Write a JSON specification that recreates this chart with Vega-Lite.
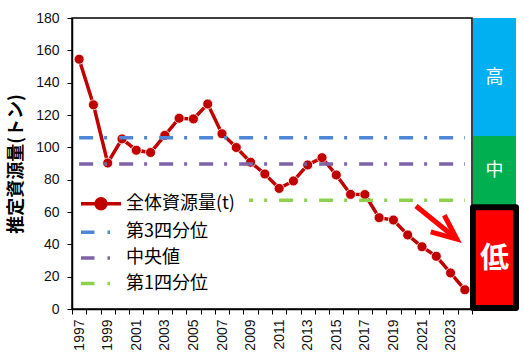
{
  "$schema": "https://vega.github.io/schema/vega-lite/v6.json",
  "padding": {"left": 6, "top": 10, "right": 0, "bottom": 0},
  "bounds": "flush",
  "spacing": 1,
  "config": {
    "view": {"stroke": null},
    "font": "Liberation Sans",
    "axis": {"domainColor": "#000", "tickColor": "#000", "labelColor": "#111", "grid": false}
  },
  "hconcat": [
    {
      "width": 400,
      "height": 291,
      "view": {"stroke": "#000", "strokeWidth": 1.5},
      "resolve": {"scale": {"x": "independent", "y": "independent"}},
      "layer": [
        {
          "data": {"values": [
            {"series": "全体資源量(t)", "year": 1997, "value": 154.5},
            {"series": "全体資源量(t)", "year": 1998, "value": 126.3},
            {"series": "全体資源量(t)", "year": 1999, "value": 90.3},
            {"series": "全体資源量(t)", "year": 2000, "value": 105.2},
            {"series": "全体資源量(t)", "year": 2001, "value": 98.2},
            {"series": "全体資源量(t)", "year": 2002, "value": 96.8},
            {"series": "全体資源量(t)", "year": 2003, "value": 107.4},
            {"series": "全体資源量(t)", "year": 2004, "value": 118.0},
            {"series": "全体資源量(t)", "year": 2005, "value": 117.6},
            {"series": "全体資源量(t)", "year": 2006, "value": 126.8},
            {"series": "全体資源量(t)", "year": 2007, "value": 108.4},
            {"series": "全体資源量(t)", "year": 2008, "value": 99.9},
            {"series": "全体資源量(t)", "year": 2009, "value": 90.8},
            {"series": "全体資源量(t)", "year": 2010, "value": 83.5},
            {"series": "全体資源量(t)", "year": 2011, "value": 74.6},
            {"series": "全体資源量(t)", "year": 2012, "value": 79.2},
            {"series": "全体資源量(t)", "year": 2013, "value": 89.1},
            {"series": "全体資源量(t)", "year": 2014, "value": 93.6},
            {"series": "全体資源量(t)", "year": 2015, "value": 82.9},
            {"series": "全体資源量(t)", "year": 2016, "value": 70.9},
            {"series": "全体資源量(t)", "year": 2017, "value": 70.8},
            {"series": "全体資源量(t)", "year": 2018, "value": 56.5},
            {"series": "全体資源量(t)", "year": 2019, "value": 55.0},
            {"series": "全体資源量(t)", "year": 2020, "value": 45.8},
            {"series": "全体資源量(t)", "year": 2021, "value": 38.5},
            {"series": "全体資源量(t)", "year": 2022, "value": 32.6},
            {"series": "全体資源量(t)", "year": 2023, "value": 22.3},
            {"series": "全体資源量(t)", "year": 2024, "value": 11.9},
            {"series": "第3四分位", "year": 1997, "value": 106.0},
            {"series": "第3四分位", "year": 2024, "value": 106.0},
            {"series": "中央値", "year": 1997, "value": 89.7},
            {"series": "中央値", "year": 2024, "value": 89.7},
            {"series": "第1四分位", "year": 1997, "value": 67.2},
            {"series": "第1四分位", "year": 2024, "value": 67.2}
          ]},
          "encoding": {
            "x": {"field": "year", "type": "ordinal", "sort": "ascending",
              "scale": {"paddingInner": 0, "paddingOuter": 0},
              "axis": {"title": null, "labelAngle": -90, "tickBand": "extent",
                "labelExpr": "datum.value % 2 == 1 ? datum.label : ''",
                "labelFontSize": 14, "labelPadding": 5, "tickSize": 5, "domainWidth": 1.5}},
            "y": {"field": "value", "type": "quantitative", "scale": {"domain": [0, 180]},
              "axis": {"title": "推定資源量(トン)", "titleFont": "Noto Sans CJK JP", "titleFontSize": 18,
                "titleFontWeight": "bold", "titleColor": "#000", "titlePadding": 10,
                "values": [0, 20, 40, 60, 80, 100, 120, 140, 160, 180], "labelOverlap": false,
                "labelFontSize": 14, "labelPadding": 8, "tickSize": 5, "domainWidth": 1.5}}
          },
          "layer": [
            {
              "transform": [{"filter": "datum.series == '全体資源量(t)'"}],
              "mark": {"type": "line", "strokeWidth": 3.5},
              "encoding": {
                "color": {"field": "series", "type": "nominal",
                  "scale": {"domain": ["全体資源量(t)", "第3四分位", "中央値", "第1四分位"],
                    "range": ["#C00000", "#4F86D6", "#7F63A8", "#8FD14F"]},
                  "legend": {
                    "orient": "none", "legendX": 3, "legendY": 159.7, "title": null,
                    "fillColor": "#ffffff", "padding": 14,
                    "labelFont": "Noto Sans CJK JP", "labelFontSize": 18, "labelColor": "#000",
                    "symbolSize": 400, "symbolStrokeWidth": 3.5, "labelOffset": 13, "rowPadding": 4.6,
                    "encode": {"symbols": {"update": {
                      "shape": {"signal": "datum.value == '全体資源量(t)' ? 'M-2,0L2,0M0.5,0A0.5,0.5,0,1,1,-0.5,0A0.5,0.5,0,1,1,0.5,0Z' : 'M-2,0L-0.65,0M0.65,0L0.9,0'"},
                      "fill": {"signal": "datum.value == '全体資源量(t)' ? '#C00000' : 'transparent'"}
                    }}}
                  }}
              }
            },
            {
              "transform": [{"filter": "datum.series == '全体資源量(t)'"}],
              "mark": {"type": "point", "filled": true, "size": 100, "color": "#C00000", "stroke": "#ffffff", "strokeWidth": 0.8, "opacity": 1}
            },
            {
              "transform": [{"filter": "datum.series != '全体資源量(t)'"}],
              "mark": {"type": "line", "strokeWidth": 3.5},
              "encoding": {
                "color": {"field": "series", "type": "nominal"},
                "strokeDash": {"field": "series", "type": "nominal",
                  "scale": {"domain": ["第3四分位", "中央値", "第1四分位"], "range": [[14, 11, 3, 12], [14, 11, 3, 12], [14, 11, 3, 12]]},
                  "legend": null}
              }
            }
          ]
        },
        {
          "data": {"values": [
            {"part": "shaft", "ord": 0, "ax": 2020.58, "ay": 63.7},
            {"part": "shaft", "ord": 1, "ax": 2023.2, "ay": 45.0},
            {"part": "head", "ord": 0, "ax": 2021.61, "ay": 47.7},
            {"part": "head", "ord": 1, "ax": 2023.44, "ay": 43.2},
            {"part": "head", "ord": 2, "ax": 2022.56, "ay": 58.0}
          ]},
          "mark": {"type": "line", "color": "#FF0000", "strokeWidth": 5, "strokeJoin": "miter"},
          "encoding": {
            "x": {"field": "ax", "type": "quantitative", "scale": {"domain": [1996.5, 2024.5], "nice": false, "zero": false}, "axis": null},
            "y": {"field": "ay", "type": "quantitative", "scale": {"domain": [0, 180], "nice": false}, "axis": null},
            "detail": {"field": "part"},
            "order": {"field": "ord"}
          }
        }
      ]
    },
    {
      "width": 50,
      "height": 291,
      "data": {"values": [
        {"level": "高", "lo": 107, "hi": 180, "mid": 143},
        {"level": "中", "lo": 63, "hi": 107, "mid": 85.3},
        {"level": "低", "lo": 0.6, "hi": 63, "mid": 30.9}
      ]},
      "encoding": {
        "y": {"field": "lo", "type": "quantitative", "scale": {"domain": [0, 180]}, "axis": null}
      },
      "layer": [
        {
          "transform": [{"filter": "datum.level != '低'"}],
          "mark": {"type": "rect"},
          "encoding": {
            "x": {"datum": 0.0, "type": "quantitative", "scale": {"domain": [0, 1]}, "axis": null},
            "x2": {"datum": 0.86},
            "y2": {"field": "hi"},
            "fill": {"field": "level", "type": "nominal",
              "scale": {"domain": ["高", "中", "低"], "range": ["#00B0F0", "#00B050", "#FF0000"]}, "legend": null}
          }
        },
        {
          "transform": [{"filter": "datum.level == '低'"}],
          "mark": {"type": "rect", "stroke": "#000", "strokeWidth": 6, "strokeJoin": "round"},
          "encoding": {
            "x": {"datum": 0.0, "type": "quantitative"},
            "x2": {"datum": 0.86},
            "y2": {"field": "hi"},
            "fill": {"field": "level", "type": "nominal"}
          }
        },
        {
          "transform": [{"filter": "datum.level != '低'"}],
          "mark": {"type": "text", "font": "Noto Sans CJK JP", "fontSize": 18, "color": "#ffffff"},
          "encoding": {
            "x": {"datum": 0.43, "type": "quantitative"},
            "y": {"field": "mid", "type": "quantitative"},
            "text": {"field": "level"}
          }
        },
        {
          "transform": [{"filter": "datum.level == '低'"}],
          "mark": {"type": "text", "font": "Noto Sans CJK JP", "fontSize": 29, "fontWeight": "bold", "color": "#ffffff"},
          "encoding": {
            "x": {"datum": 0.43, "type": "quantitative"},
            "y": {"field": "mid", "type": "quantitative"},
            "text": {"field": "level"}
          }
        }
      ]
    }
  ]
}
